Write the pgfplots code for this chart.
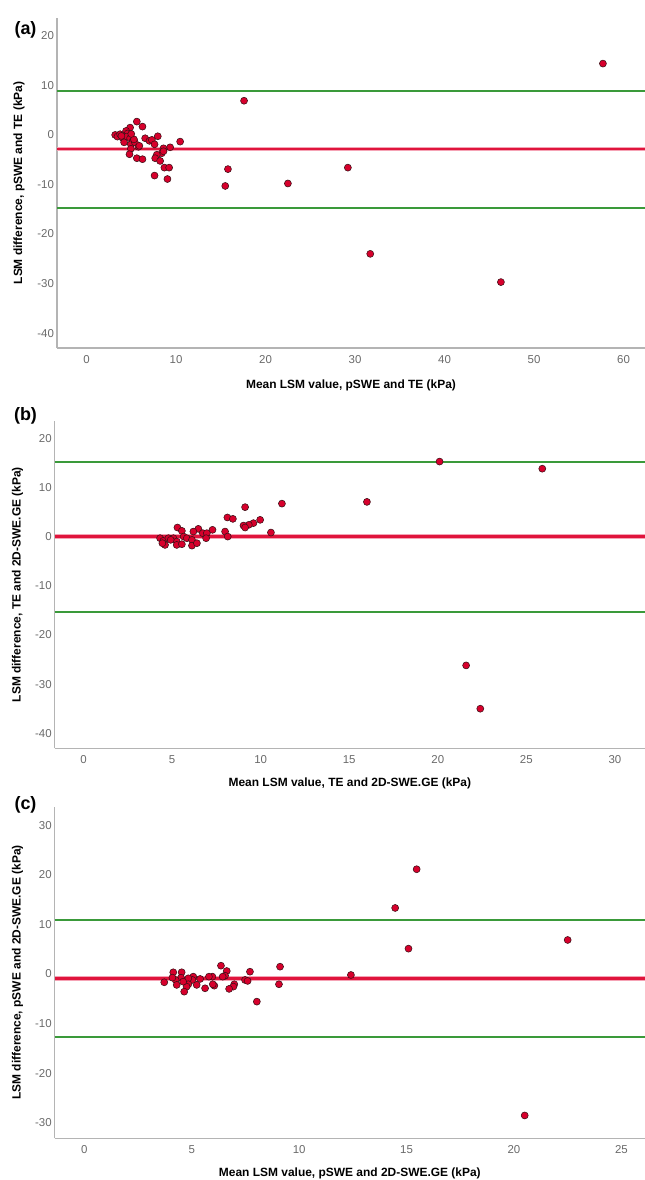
\documentclass[border=0pt]{standalone}
\usepackage{pgfplots}
\pgfplotsset{compat=1.18}
\usepackage{pgfplotstable}
\usepackage{fontspec}
\setmainfont{Liberation Sans}
\definecolor{ptred}{HTML}{D7002C}
\definecolor{ptedge}{HTML}{3A1016}
\definecolor{meanred}{HTML}{E0143C}
\definecolor{meanhalo}{HTML}{F5A3B5}
\definecolor{loagreen}{HTML}{3A9A3A}
\definecolor{axisgray}{HTML}{B4B4B4}
\definecolor{tickgray}{HTML}{6A6A6A}

\pgfplotstableread{
x y
57.7 14.4
17.6 6.9
15.8 -6.9
15.5 -10.3
22.5 -9.8
29.2 -6.6
31.7 -24.0
46.3 -29.7
5.62 2.69
6.25 1.68
4.87 1.48
4.42 0.81
4.6 0.3
3.2 0.0
3.45 -0.34
3.75 0.14
4.05 -0.67
4.5 -0.34
4.87 -0.67
5.17 -1.2
4.2 -1.5
4.95 -1.9
5.4 -1.5
5.8 -2.4
4.95 -2.8
4.8 -3.9
6.55 -0.67
7.03 -1.2
7.3 -1.0
7.96 -0.27
7.6 -1.9
10.46 -1.35
9.34 -2.5
8.6 -2.7
8.4 -3.7
7.85 -4.0
7.67 -4.7
8.22 -5.25
5.62 -4.7
6.25 -4.9
8.7 -6.6
9.23 -6.6
7.6 -8.2
9.04 -8.9
5.3 -0.9
5.0 0.2
3.9 -0.2
5.9 -2.2
8.6 -3.3
}\dataA

\pgfplotstableread{
x y
20.1 15.25
25.9 13.8
16.0 7.05
11.2 6.7
9.12 5.98
21.6 -26.2
22.4 -35.0
8.12 3.88
8.43 3.6
9.97 3.4
9.59 2.73
9.33 2.39
9.03 2.24
9.12 1.84
10.58 0.82
7.99 1.02
8.14 0.0
7.28 1.37
6.48 1.57
6.2 1.02
5.3 1.84
5.55 1.16
6.73 0.69
6.96 0.69
6.92 -0.33
5.65 0.0
5.83 -0.33
6.12 -0.67
4.32 -0.33
4.5 -0.88
4.6 -1.7
4.45 -1.35
4.79 -0.33
5.07 -0.33
5.26 -1.02
5.26 -1.7
5.55 -1.55
6.12 -1.84
6.4 -1.35
4.92 -0.67
}\dataB

\pgfplotstableread{
x y
15.47 21.1
14.47 13.3
15.09 5.1
22.5 6.85
20.5 -28.5
12.41 -0.2
9.11 1.47
9.06 -2.07
8.03 -5.57
6.36 1.67
6.63 0.6
6.55 -0.34
6.44 -0.54
7.71 0.46
7.48 -1.2
7.6 -1.4
6.98 -2.07
6.94 -2.55
6.74 -3.0
6.05 -2.35
5.98 -2.07
5.96 -0.54
5.8 -0.54
5.62 -2.88
5.39 -1.0
5.23 -2.2
5.07 -0.54
5.03 -1.2
4.84 -0.87
4.84 -2.07
4.76 -2.55
4.65 -3.56
4.53 0.34
4.5 -0.74
4.6 -1.55
4.25 -1.2
4.3 -2.2
4.14 0.34
4.1 -0.74
3.72 -1.67
}\dataC

\pgfplotsset{
  bafig/.style={
    scale only axis,
    axis x line*=bottom,
    axis y line*=left,
    axis line style={-, draw=axisgray, line width=1.3bp},
    major tick length=0pt,
    tick label style={font=\fontsize{11.5}{12}\selectfont, text=tickgray},
    /pgf/number format/assume math mode=true,
    xticklabel style={yshift=-3.5bp},
    yticklabel style={xshift=0.5bp},
    label style={font=\bfseries\fontsize{12}{14}\selectfont},
    clip=false,
  },
  pts/.style={only marks, mark=*, mark size=3.5bp,
    mark options={fill=ptred, draw=ptedge, line width=0.55bp}},
  halo/.style={draw=meanhalo, line width=4.5bp, no marks},
  meanl/.style={draw=meanred, line width=2.4bp, no marks},
  loa/.style={draw=loagreen, line width=2bp, no marks},
}

\begin{document}
\begin{tikzpicture}
\useasboundingbox (0,0) rectangle (645bp,1180bp);

% panel (a)
\begin{axis}[bafig,
  at={(57bp,832bp)}, anchor=south west,
  width=588bp, height=330bp,
  xmin=-3.3, xmax=62.4, ymin=-43.0, ymax=23.6,
  xtick={0,10,...,60}, ytick={-40,-30,...,20},
  xlabel={Mean LSM value, pSWE and TE (kPa)},
  ylabel={LSM difference, pSWE and TE (kPa)},
  xlabel style={at={(axis description cs:0.5,-0.112)}, anchor=center},
  ylabel style={at={(axis description cs:-0.0646,0.5)}, anchor=center},
]
\addplot[loa] coordinates {(-3.3,8.95) (62.4,8.95)};
\addplot[loa] coordinates {(-3.3,-14.69) (62.4,-14.69)};
\addplot[halo] coordinates {(-3.3,-2.83) (62.4,-2.83)};
\addplot[meanl] coordinates {(-3.3,-2.83) (62.4,-2.83)};
\addplot[pts] table[x=x,y=y] {\dataA};
\end{axis}

% panel (b)
\begin{axis}[bafig,
  at={(54.7bp,431.7bp)}, anchor=south west,
  width=590.3bp, height=327.3bp,
  xmin=-1.63, xmax=31.7, ymin=-43.05, ymax=23.5,
  xtick={0,5,...,30}, ytick={-40,-30,...,20},
  xlabel={Mean LSM value, TE and 2D-SWE.GE (kPa)},
  ylabel={LSM difference, TE and 2D-SWE.GE (kPa)},
  xlabel style={at={(axis description cs:0.5,-0.106)}, anchor=center},
  ylabel style={at={(axis description cs:-0.063,0.5)}, anchor=center},
]
\addplot[loa] coordinates {(-1.63,15.26) (31.7,15.26)};
\addplot[loa] coordinates {(-1.63,-15.26) (31.7,-15.26)};
\addplot[halo] coordinates {(-1.63,0.05) (31.7,0.05)};
\addplot[meanl] coordinates {(-1.63,0.05) (31.7,0.05)};
\addplot[pts] table[x=x,y=y] {\dataB};
\end{axis}

% panel (c)
\begin{axis}[bafig,
  at={(54.7bp,41.7bp)}, anchor=south west,
  width=590.3bp, height=331.6bp,
  xmin=-1.38, xmax=26.1, ymin=-33.1, ymax=33.7,
  xtick={0,5,...,25}, ytick={-30,-20,...,30},
  xlabel={Mean LSM value, pSWE and 2D-SWE.GE (kPa)},
  ylabel={LSM difference, pSWE and 2D-SWE.GE (kPa)},
  xlabel style={at={(axis description cs:0.5,-0.105)}, anchor=center},
  ylabel style={at={(axis description cs:-0.063,0.5)}, anchor=center},
]
\addplot[loa] coordinates {(-1.38,10.93) (26.1,10.93)};
\addplot[loa] coordinates {(-1.38,-12.62) (26.1,-12.62)};
\addplot[halo] coordinates {(-1.38,-0.87) (26.1,-0.87)};
\addplot[meanl] coordinates {(-1.38,-0.87) (26.1,-0.87)};
\addplot[pts] table[x=x,y=y] {\dataC};
\end{axis}

\node[font=\bfseries\fontsize{18}{18}\selectfont] at (25.5bp,1150.5bp) {(a)};
\node[font=\bfseries\fontsize{18}{18}\selectfont] at (25.5bp,764.5bp) {(b)};
\node[font=\bfseries\fontsize{18}{18}\selectfont] at (25.5bp,375bp) {(c)};
\end{tikzpicture}
\end{document}
